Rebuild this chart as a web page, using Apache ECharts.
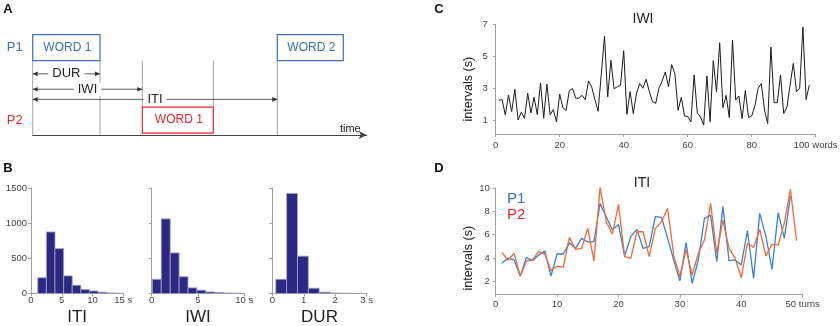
<!DOCTYPE html>
<html><head><meta charset="utf-8">
<script src="https://cdn.jsdelivr.net/npm/echarts@6/dist/echarts.min.js"></script>
<style>html,body{margin:0;padding:0;background:#fff}#chart{width:840px;height:326px}</style>
</head><body><div id="chart"></div>
<script>
// ---------- Panel A: schematic timeline (time in s) ----------
const wordSpeakers = ['P1', 'P2', 'P1'];
const wordLabels = ['WORD 1', 'WORD 1', 'WORD 2'];
const wordStart = [0, 1.096, 2.446];
const wordEnd = [0.673, 1.806, 3.106];
const wordOnsetLine = [true, true, true];
const wordOffsetLine = [true, true, false];
const intervalNames = ['DUR', 'IWI', 'ITI'];
const intervalStart = [0, 0, 0];
const intervalEnd = [0.673, 1.096, 2.446];
const speakerNames = ['P1', 'P2'];

// ---------- Panel B: histograms ----------
const itiEdges = [1.1, 2.5, 3.9, 5.3, 6.7, 8.1, 9.5, 10.9, 12.3, 13.7, 15.1];
const itiCounts = [225, 875, 638, 250, 117, 56, 36, 18, 8, 4];
const iwiEdges = [0.07, 1.03, 2.0, 2.96, 3.92, 4.88, 5.84, 6.8, 7.76, 8.72, 9.68];
const iwiCounts = [202, 1061, 577, 239, 80, 47, 22, 16, 8, 4];
const durEdges = [0.11, 0.455, 0.8, 1.145, 1.49, 1.835, 2.18, 2.525, 2.87];
const durCounts = [202, 1423, 531, 75, 19, 8, 4, 2];
const histTitles = ['ITI', 'IWI', 'DUR'];
const countTicks = [0, 500, 1000, 1500];

// ---------- Panel C: IWI per word ----------
const iwiValues = [2.25, 2.29, 1.33, 2.58, 1.54, 2.94, 1.02, 1.5, 1.12, 2.69,
  1.46, 2.44, 1.35, 3.33, 1.12, 3.26, 1.35, 1.66, 0.89, 2.64,
  1.78, 1.61, 2.85, 2.98, 2.38, 2.38, 2.56, 2.29, 3.46, 3.08,
  2.3, 1.56, 3.9, 6.25, 2.46, 4.75, 2.96, 3.1, 3.17, 5.35,
  1.37, 2.79, 1.42, 2.69, 3.3, 3.0, 3.56, 2.79, 2.16, 2.06,
  3.0, 3.45, 4.02, 3.1, 4.48, 3.9, 1.62, 2.44, 1.27, 1.23,
  0.89, 3.83, 1.46, 1.2, 0.71, 3.77, 0.91, 4.73, 2.79, 5.85,
  1.79, 2.56, 1.17, 6.02, 2.27, 2.52, 1.1, 2.85, 1.17, 1.27,
  1.9, 3.0, 3.29, 1.64, 0.79, 5.58, 2.1, 2.1, 3.83, 1.42,
  1.81, 3.2, 4.56, 2.79, 3.0, 6.83, 2.29, 3.2];
const iwiTicks = [1, 3, 5, 7];

// ---------- Panel D: ITI per turn ----------
const itiP1 = [3.54, 3.97, 3.83, 2.45, 4.03, 3.77, 4.25, 4.6, 2.45, 4.34,
  4.34, 5.3, 4.83, 5.68, 5.37, 5.4, 8.68, 7.54, 6.4, 6.88,
  4.17, 5.83, 6.45, 4.83, 4.97, 7.54, 7.48, 5.7, 3.8, 2.05,
  5.31, 1.83, 3.83, 7.4, 7.68, 3.68, 8.4, 3.77, 3.83, 3.4,
  6.34, 2.25, 7.82, 5.88, 3.02, 7.88, 5.68, 9.31];
const itiP2 = [4.48, 3.83, 4.4, 2.45, 3.74, 3.83, 4.54, 4.34, 2.91, 3.31,
  3.2, 5.77, 4.74, 4.83, 6.54, 3.74, 10.05, 7.11, 6.05, 8.6,
  4.11, 3.97, 6.25, 6.25, 4.11, 6.54, 7.1, 8.25, 4.2, 2.4,
  4.74, 2.54, 4.4, 5.54, 8.68, 4.4, 7.25, 4.83, 3.97, 2.31,
  5.25, 4.91, 6.45, 4.17, 5.17, 5.11, 6.97, 9.88, 5.48];
const itiTicks = [2, 4, 6, 8, 10];

// ---------- styling ----------
const FONT = '"Liberation Sans", Arial, Helvetica, sans-serif';
const BLUE = '#3a6fc2';
const RED = '#e8262e';
const LINE_BLUE = '#3a80d2';
const LINE_RED = '#ef6a38';
const NAVY = '#2c2985';
const AXC = '#a0a0a0';
const LBL = '#444';

const ROW = { P1: [2.86, 3.86], P2: [0.07, 1.07] };
const LEVEL = { DUR: 2.35, IWI: 1.76, ITI: 1.37 };

function renderWord(params, api) {
  const s = api.value(0), e = api.value(1), i = api.value(2);
  const sp = wordSpeakers[i];
  const lo = ROW[sp][0], hi = ROW[sp][1];
  const tl = api.coord([s, hi]), br = api.coord([e, lo]);
  const col = sp === 'P1' ? BLUE : RED;
  const children = [];
  const cTop = sp === 'P1' ? lo : ROW.P1[0];
  const cBot = sp === 'P1' ? 0 : hi;
  const ts = [];
  if (wordOnsetLine[i]) ts.push(s);
  if (wordOffsetLine[i]) ts.push(e);
  ts.forEach(t => {
    const a = api.coord([t, cTop]), b = api.coord([t, cBot]);
    children.push({ type: 'line', shape: { x1: a[0], y1: a[1], x2: b[0], y2: b[1] },
      style: { stroke: '#8c8c8c', lineWidth: 0.8 } });
  });
  children.push({ type: 'rect', shape: { x: tl[0], y: tl[1], width: br[0] - tl[0], height: br[1] - tl[1] },
    style: { fill: '#fff', stroke: col, lineWidth: 1.2 } });
  children.push({ type: 'text', style: { text: wordLabels[i], x: (tl[0] + br[0]) / 2 + 1, y: (tl[1] + br[1]) / 2,
    align: 'center', verticalAlign: 'middle', fill: col, fontSize: 12, fontFamily: FONT } });
  return { type: 'group', children };
}

function renderInterval(params, api) {
  const s = api.value(0), e = api.value(1), i = api.value(2);
  const y = LEVEL[intervalNames[i]];
  const a = api.coord([s, y]), b = api.coord([e, y]);
  const ah = 5, aw = 2.3;
  return { type: 'group', children: [
    { type: 'line', shape: { x1: a[0], y1: a[1], x2: b[0], y2: b[1] }, style: { stroke: '#333', lineWidth: 0.8 } },
    { type: 'polygon', shape: { points: [[a[0], a[1]], [a[0] + ah, a[1] - aw], [a[0] + ah, a[1] + aw]] }, style: { fill: '#333' } },
    { type: 'polygon', shape: { points: [[b[0], b[1]], [b[0] - ah, b[1] - aw], [b[0] - ah, b[1] + aw]] }, style: { fill: '#333' } },
    { type: 'text', style: { text: intervalNames[i], x: (a[0] + b[0]) / 2, y: a[1], align: 'center', verticalAlign: 'middle',
      fill: '#222', fontSize: 13, fontFamily: FONT, backgroundColor: '#fff', padding: [0, 4] } }
  ] };
}

function renderHist(params, api) {
  const x0 = api.value(0), x1 = api.value(1), c = api.value(2);
  const p0 = api.coord([x0, c]), p1 = api.coord([x1, 0]);
  return { type: 'rect', shape: { x: p0[0], y: p0[1], width: p1[0] - p0[0], height: p1[1] - p0[1] },
    style: { fill: NAVY, stroke: '#a5a5b8', lineWidth: 0.8 } };
}

const axLine = { show: true, lineStyle: { color: AXC, width: 1 } };
const axTick = { show: true, length: 3, lineStyle: { color: AXC } };
const axLabel = (extra) => Object.assign({ color: LBL, fontSize: 9.5, fontFamily: FONT }, extra || {});

function unitFmt(maxV, unit) { return v => (v === maxV ? v + ' ' + unit : String(v)); }

const histAxesX = [
  { max: 15, interval: 5, unit: 's' },
  { max: 10, interval: 5, unit: 's' },
  { max: 3, interval: 1, unit: 's' }
];

const grids = [
  { left: 32.7, top: 34.3, width: 334, height: 100.7 },   // A
  { left: 31, top: 188, width: 92.3, height: 105.5 },     // B1
  { left: 151.7, top: 188, width: 92.6, height: 105.5 },  // B2
  { left: 272.3, top: 188, width: 94.4, height: 105.5 },  // B3
  { left: 495.7, top: 24.3, width: 320, height: 109.7 },  // C
  { left: 495.7, top: 188, width: 307, height: 106.5 }    // D
].map(g => Object.assign({ outerBoundsMode: 'none', containLabel: false }, g));

const xAxes = [
  { gridIndex: 0, type: 'value', min: 0, max: 3.34,
    axisLine: { show: true, lineStyle: { color: '#444', width: 1 }, symbol: ['none', 'arrow'], symbolSize: [6, 8] },
    axisTick: { show: false }, axisLabel: { show: false }, splitLine: { show: false },
    name: 'time', nameLocation: 'end', nameGap: -6,
    nameTextStyle: { align: 'right', verticalAlign: 'bottom', fontSize: 11, color: '#222', fontFamily: FONT, padding: [0, 0, 1, 0] } }
];
histAxesX.forEach((h, k) => {
  xAxes.push({ gridIndex: k + 1, type: 'value', min: 0, max: h.max, interval: h.interval,
    axisLine: axLine, axisTick: axTick, splitLine: { show: false },
    axisLabel: axLabel({ margin: 2, formatter: unitFmt(h.max, h.unit) }),
    name: histTitles[k], nameLocation: 'middle', nameGap: 15,
    nameTextStyle: { fontSize: 17, color: '#222', fontFamily: FONT } });
});
xAxes.push({ gridIndex: 4, type: 'value', min: 0, max: 100, interval: 20,
  axisLine: axLine, axisTick: axTick, splitLine: { show: false },
  axisLabel: axLabel({ margin: 6, formatter: unitFmt(100, 'words') }) });
xAxes.push({ gridIndex: 5, type: 'value', min: 0, max: 50, interval: 10,
  axisLine: axLine, axisTick: axTick, splitLine: { show: false },
  axisLabel: axLabel({ margin: 5, formatter: unitFmt(50, 'turns') }) });

const yAxes = [
  { gridIndex: 0, type: 'value', min: 0, max: 3.87,
    axisLine: { show: false }, axisTick: { show: false }, splitLine: { show: false },
    axisLabel: { show: true, margin: 10, fontSize: 13, fontFamily: FONT,
      customValues: speakerNames.map(sp => (ROW[sp][0] + ROW[sp][1]) / 2),
      formatter: v => (v > 2 ? '{p1|P1}' : '{p2|P2}'),
      rich: { p1: { color: BLUE, fontSize: 13, fontFamily: FONT }, p2: { color: RED, fontSize: 13, fontFamily: FONT } } } }
];
[0, 1, 2].forEach(k => {
  yAxes.push({ gridIndex: k + 1, type: 'value', min: 0, max: 1500, interval: 500,
    axisLine: axLine, axisTick: Object.assign({ customValues: countTicks }, axTick), splitLine: { show: false },
    axisLabel: axLabel({ show: k === 0, margin: 4, customValues: countTicks, formatter: v => String(v) }) });
});
yAxes.push({ gridIndex: 4, type: 'value', min: 0.14, max: 7,
  axisLine: axLine, axisTick: Object.assign({ customValues: iwiTicks }, axTick), splitLine: { show: false },
  axisLabel: axLabel({ margin: 8, customValues: iwiTicks }),
  name: 'intervals (s)', nameLocation: 'middle', nameGap: 21,
  nameTextStyle: { fontSize: 12.5, color: '#222', fontFamily: FONT, padding: [0, 20, 0, 0] } });
yAxes.push({ gridIndex: 5, type: 'value', min: 0.87, max: 10,
  axisLine: axLine, axisTick: Object.assign({ customValues: itiTicks }, axTick), splitLine: { show: false },
  axisLabel: axLabel({ margin: 6, customValues: itiTicks }),
  name: 'intervals (s)', nameLocation: 'middle', nameGap: 21,
  nameTextStyle: { fontSize: 12.5, color: '#222', fontFamily: FONT, padding: [0, 34, 0, 0] } });

const histData = [[itiEdges, itiCounts], [iwiEdges, iwiCounts], [durEdges, durCounts]];

const series = [
  { type: 'custom', name: 'words', xAxisIndex: 0, yAxisIndex: 0, clip: false, silent: true,
    renderItem: renderWord, encode: { x: [0, 1] },
    data: wordStart.map((s, i) => [s, wordEnd[i], i]) },
  { type: 'custom', name: 'intervals', xAxisIndex: 0, yAxisIndex: 0, clip: false, silent: true,
    renderItem: renderInterval, encode: { x: [0, 1] },
    data: intervalStart.map((s, i) => [s, intervalEnd[i], i]) }
];
histData.forEach((hd, k) => {
  const edges = hd[0], counts = hd[1];
  series.push({ type: 'custom', name: histTitles[k], xAxisIndex: k + 1, yAxisIndex: k + 1, clip: false, silent: true,
    renderItem: renderHist, encode: { x: [0, 1], y: 2 },
    data: counts.map((c, i) => [edges[i], edges[i + 1], c]) });
});
series.push({ type: 'line', name: 'IWI', xAxisIndex: 4, yAxisIndex: 4, symbol: 'none', silent: true,
  lineStyle: { color: '#1c1c1c', width: 1 },
  data: iwiValues.map((v, i) => [i + 1, v]) });
series.push({ type: 'line', name: 'P1', xAxisIndex: 5, yAxisIndex: 5, symbol: 'none', silent: true,
  lineStyle: { color: LINE_BLUE, width: 1.3 }, itemStyle: { color: LINE_BLUE },
  data: itiP1.map((v, i) => [i + 1, v]) });
series.push({ type: 'line', name: 'P2', xAxisIndex: 5, yAxisIndex: 5, symbol: 'none', silent: true,
  lineStyle: { color: LINE_RED, width: 1.3 }, itemStyle: { color: LINE_RED },
  data: itiP2.map((v, i) => [i + 1, v]) });

const letter = (t, x, y) => ({ type: 'text', x, y, style: { text: t, align: 'center', verticalAlign: 'middle',
  fontSize: 13, fontWeight: 'bold', fontFamily: FONT, fill: '#111' } });

const graphic = [
  letter('A', 8, 9), letter('B', 8, 168.5), letter('C', 439, 9), letter('D', 439, 168.5),
  { type: 'text', x: 643, y: 19, style: { text: 'IWI', align: 'center', verticalAlign: 'middle', fontSize: 14, fontFamily: FONT, fill: '#222' } },
  { type: 'text', x: 642, y: 183.5, style: { text: 'ITI', align: 'center', verticalAlign: 'middle', fontSize: 14, fontFamily: FONT, fill: '#222' } },
  { type: 'text', x: 507, y: 199, style: { text: 'P1', align: 'left', verticalAlign: 'middle', fontSize: 15, fontFamily: FONT, fill: BLUE } },
  { type: 'text', x: 507, y: 215, style: { text: 'P2', align: 'left', verticalAlign: 'middle', fontSize: 15, fontFamily: FONT, fill: RED } }
];

const chart = echarts.init(document.getElementById('chart'), null, { renderer: 'canvas' });
chart.setOption({
  animation: false,
  backgroundColor: '#fff',
  textStyle: { fontFamily: FONT },
  grid: grids,
  xAxis: xAxes,
  yAxis: yAxes,
  series,
  graphic
});
</script></body></html>
